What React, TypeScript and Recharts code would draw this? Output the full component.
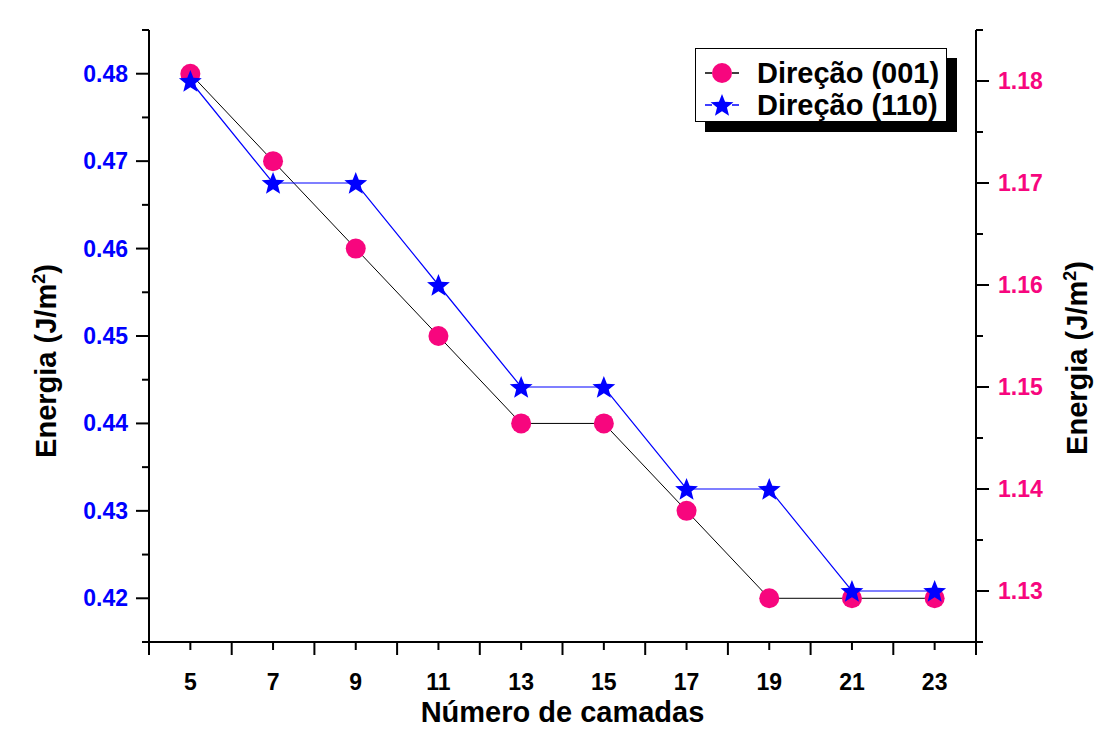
import React from "react";
import { LineChart, Line, XAxis, YAxis } from "recharts";

const camadas = [5, 7, 9, 11, 13, 15, 17, 19, 21, 23];
const energia001 = [0.48, 0.47, 0.46, 0.45, 0.44, 0.44, 0.43, 0.42, 0.42, 0.42];
const energia110 = [1.18, 1.17, 1.17, 1.16, 1.15, 1.15, 1.14, 1.14, 1.13, 1.13];

const xTicks = [4, 5, 6, 7, 8, 9, 10, 11, 12, 13, 14, 15, 16, 17, 18, 19, 20, 21, 22, 23, 24];
const xLabeled = [5, 7, 9, 11, 13, 15, 17, 19, 21, 23];
const leftTicks = [0.415, 0.42, 0.425, 0.43, 0.435, 0.44, 0.445, 0.45, 0.455, 0.46, 0.465, 0.47, 0.475, 0.48, 0.485];
const leftMajor = [0.42, 0.43, 0.44, 0.45, 0.46, 0.47, 0.48];
const rightTicks = [1.125, 1.13, 1.135, 1.14, 1.145, 1.15, 1.155, 1.16, 1.165, 1.17, 1.175, 1.18, 1.185];
const rightMajor = [1.13, 1.14, 1.15, 1.16, 1.17, 1.18];

const data = camadas.map((n, i) => ({ n, d001: energia001[i], d110: energia110[i] }));

const FONT = "'Liberation Sans', Arial, sans-serif";
const BLUE = "#0000ff";
const PINK = "#f7067e";

const has = (list: number[], v: number) => list.some((m) => Math.abs(m - v) < 1e-6);

const LeftTick = (props: any) => {
  const { x, y, payload } = props;
  const major = has(leftMajor, payload.value);
  return (
    <g>
      <line x1={x} x2={x - (major ? 13 : 7)} y1={y} y2={y} stroke="#000" strokeWidth={2} />
      {major && (
        <text x={x - 21} y={y + 8} textAnchor="end" fill={BLUE} fontSize={23} fontWeight="bold" fontFamily={FONT}>
          {payload.value.toFixed(2)}
        </text>
      )}
    </g>
  );
};

const RightTick = (props: any) => {
  const { x, y, payload } = props;
  const major = has(rightMajor, payload.value);
  return (
    <g>
      <line x1={x} x2={x + (major ? 13 : 7)} y1={y} y2={y} stroke="#000" strokeWidth={2} />
      {major && (
        <text x={x + 22} y={y + 8} textAnchor="start" fill={PINK} fontSize={23} fontWeight="bold" fontFamily={FONT}>
          {payload.value.toFixed(2)}
        </text>
      )}
    </g>
  );
};

const BottomTick = (props: any) => {
  const { x, y, payload } = props;
  const labeled = has(xLabeled, payload.value);
  return (
    <g>
      <line x1={x} x2={x} y1={y} y2={y + (labeled ? 8 : 13)} stroke="#000" strokeWidth={2} />
      {labeled && (
        <text x={x} y={y + 48} textAnchor="middle" fill="#000" fontSize={23} fontWeight="bold" fontFamily={FONT}>
          {payload.value}
        </text>
      )}
    </g>
  );
};

const starPoints = (cx: number, cy: number, R: number, r: number) => {
  const pts: string[] = [];
  for (let i = 0; i < 10; i++) {
    const rad = i % 2 === 0 ? R : r;
    const a = -Math.PI / 2 + (i * Math.PI) / 5;
    pts.push(`${cx + rad * Math.cos(a)},${cy + rad * Math.sin(a)}`);
  }
  return pts.join(" ");
};

const CircleDot = (props: any) => {
  const { cx, cy, index } = props;
  return <circle key={`c${index}`} cx={cx} cy={cy} r={10} fill={PINK} />;
};

const StarDot = (props: any) => {
  const { cx, cy, index } = props;
  return <polygon key={`s${index}`} points={starPoints(cx, cy + 1, 12, 5.2)} fill={BLUE} />;
};

const axisTitle = (x: number, y: number) => () => (
  <text
    transform={`rotate(-90, ${x}, ${y})`}
    x={x}
    y={y}
    textAnchor="middle"
    fontSize={29}
    fontWeight="bold"
    fontFamily={FONT}
    fill="#000"
  >
    Energia (J/m
    <tspan fontSize={18} dy={-11}>2</tspan>
    <tspan dy={11}>)</tspan>
  </text>
);

const LegendRow = ({ kind, label }: { kind: "circle" | "star"; label: string }) => (
  <div style={{ display: "flex", alignItems: "center", height: 32 }}>
    <svg width={52} height={32} style={{ flex: "none" }}>
      <line x1={7} x2={14} y1={16} y2={16} stroke={kind === "circle" ? "#000" : BLUE} strokeWidth={1.5} />
      <line x1={34} x2={41} y1={16} y2={16} stroke={kind === "circle" ? "#000" : BLUE} strokeWidth={1.5} />
      {kind === "circle" ? (
        <circle cx={24} cy={16} r={10} fill={PINK} />
      ) : (
        <polygon points={starPoints(24, 17, 12, 5.2)} fill={BLUE} />
      )}
    </svg>
    <span style={{ marginLeft: 7, fontSize: 29, fontWeight: "bold", fontFamily: FONT, color: "#000", whiteSpace: "nowrap" }}>
      {label}
    </span>
  </div>
);

export default function App() {
  return (
    <div style={{ position: "absolute", left: 0, top: 0, width: 1100, height: 729, background: "#fff" }}>
      <LineChart width={1100} height={729} data={data} margin={{ top: 30, right: 0, bottom: 0, left: 0 }}>
        <XAxis
          dataKey="n"
          type="number"
          domain={[4, 24]}
          ticks={xTicks}
          interval={0}
          height={87}
          tickSize={0}
          tickMargin={0}
          tickLine={false}
          tick={BottomTick}
          axisLine={{ stroke: "#000", strokeWidth: 2 }}
          label={{
            value: "Número de camadas",
            position: "insideBottom",
            offset: 7,
            fill: "#000",
            fontSize: 29,
            fontWeight: "bold",
            fontFamily: FONT,
          }}
        />
        <XAxis
          xAxisId="top"
          orientation="top"
          type="number"
          dataKey="n"
          domain={[4, 24]}
          height={0}
          tick={false}
          tickLine={false}
          axisLine={{ stroke: "#000", strokeWidth: 2 }}
        />
        <YAxis
          yAxisId="left"
          orientation="left"
          type="number"
          domain={[0.415, 0.485]}
          ticks={leftTicks}
          interval={0}
          width={149}
          tickSize={0}
          tickMargin={0}
          tickLine={false}
          tick={LeftTick}
          axisLine={{ stroke: "#000", strokeWidth: 2 }}
          label={{ content: axisTitle(56, 361) }}
        />
        <YAxis
          yAxisId="right"
          orientation="right"
          type="number"
          domain={[1.125, 1.185]}
          ticks={rightTicks}
          interval={0}
          width={124}
          tickSize={0}
          tickMargin={0}
          tickLine={false}
          tick={RightTick}
          axisLine={{ stroke: "#000", strokeWidth: 2 }}
          label={{ content: axisTitle(1087, 358) }}
        />
        <Line
          yAxisId="left"
          type="linear"
          dataKey="d001"
          stroke="#000"
          strokeWidth={1}
          dot={CircleDot}
          activeDot={false}
          isAnimationActive={false}
        />
        <Line
          yAxisId="right"
          type="linear"
          dataKey="d110"
          stroke={BLUE}
          strokeWidth={1.2}
          dot={StarDot}
          activeDot={false}
          isAnimationActive={false}
        />
      </LineChart>
      <div
        style={{
          position: "absolute",
          left: 695,
          top: 48,
          width: 252,
          height: 74,
          border: "1.5px solid #000",
          background: "#fff",
          boxShadow: "10px 10px 0 #000",
          paddingTop: 8,
          paddingLeft: 2,
          boxSizing: "border-box",
        }}
      >
        <LegendRow kind="circle" label="Direção (001)" />
        <LegendRow kind="star" label="Direção (110)" />
      </div>
    </div>
  );
}
